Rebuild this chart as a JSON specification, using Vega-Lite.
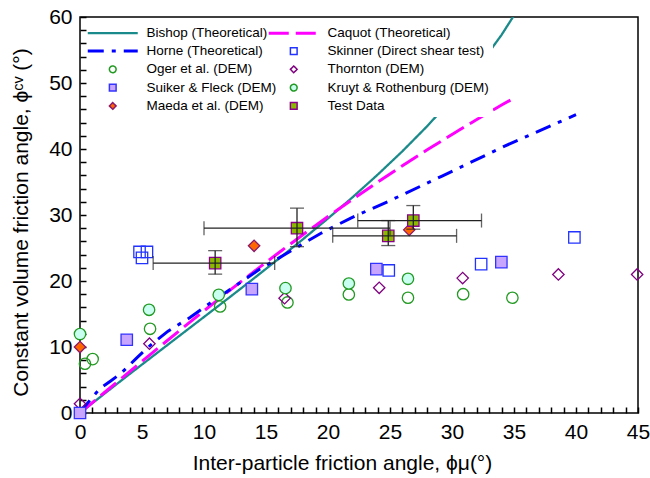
{
  "$schema": "https://vega.github.io/schema/vega-lite/v6.json",
  "width": 558,
  "height": 396,
  "autosize": {"type": "none"},
  "padding": {"left": 80, "top": 17, "right": 12, "bottom": 65},
  "background": "white",
  "config": {
    "font": "Liberation Sans",
    "view": {"stroke": "black", "strokeWidth": 1.5},
    "axis": {
      "domain": false, "offset": -6, "ticks": true,
      "tickColor": "#000000", "tickWidth": 1.5, "tickSize": 6, "tickOpacity": 1, "tickCap": "butt",
      "labelFont": "Liberation Sans", "labelFontSize": 21, "labelColor": "black",
      "titleFont": "Liberation Sans", "titleFontSize": 21, "titleFontWeight": "normal", "titleColor": "black",
      "grid": false
    },
    "legend": {
      "orient": "none", "legendX": 22, "legendY": 5, "columns": 2, "fillColor": "white", "padding": 4,
      "labelFont": "Liberation Sans", "labelFontSize": 13.5, "labelColor": "black", "labelLimit": 300,
      "symbolSize": 45, "labelOffset": 27, "rowPadding": 3.3, "columnPadding": -15, "symbolStrokeWidth": 1.4
    }
  },
  "datasets": {
    "lines": [
      {"series": "Bishop (Theoretical)", "x": 0, "y": 0},
      {"series": "Bishop (Theoretical)", "x": 2, "y": 2.97},
      {"series": "Bishop (Theoretical)", "x": 4, "y": 5.9},
      {"series": "Bishop (Theoretical)", "x": 6, "y": 8.79},
      {"series": "Bishop (Theoretical)", "x": 8, "y": 11.67},
      {"series": "Bishop (Theoretical)", "x": 10, "y": 14.55},
      {"series": "Bishop (Theoretical)", "x": 12, "y": 17.44},
      {"series": "Bishop (Theoretical)", "x": 14, "y": 20.36},
      {"series": "Bishop (Theoretical)", "x": 16, "y": 23.33},
      {"series": "Bishop (Theoretical)", "x": 18, "y": 26.36},
      {"series": "Bishop (Theoretical)", "x": 20, "y": 29.48},
      {"series": "Bishop (Theoretical)", "x": 22, "y": 32.72},
      {"series": "Bishop (Theoretical)", "x": 24, "y": 36.1},
      {"series": "Bishop (Theoretical)", "x": 26, "y": 39.66},
      {"series": "Bishop (Theoretical)", "x": 28, "y": 43.46},
      {"series": "Bishop (Theoretical)", "x": 30, "y": 47.58},
      {"series": "Bishop (Theoretical)", "x": 32, "y": 52.13},
      {"series": "Bishop (Theoretical)", "x": 34, "y": 57.3},
      {"series": "Bishop (Theoretical)", "x": 35, "y": 60.24},
      {"series": "Caquot (Theoretical)", "x": 0, "y": 0},
      {"series": "Caquot (Theoretical)", "x": 2, "y": 3.14},
      {"series": "Caquot (Theoretical)", "x": 4, "y": 6.27},
      {"series": "Caquot (Theoretical)", "x": 6, "y": 9.38},
      {"series": "Caquot (Theoretical)", "x": 8, "y": 12.45},
      {"series": "Caquot (Theoretical)", "x": 10, "y": 15.48},
      {"series": "Caquot (Theoretical)", "x": 12, "y": 18.47},
      {"series": "Caquot (Theoretical)", "x": 14, "y": 21.39},
      {"series": "Caquot (Theoretical)", "x": 16, "y": 24.25},
      {"series": "Caquot (Theoretical)", "x": 18, "y": 27.04},
      {"series": "Caquot (Theoretical)", "x": 20, "y": 29.76},
      {"series": "Caquot (Theoretical)", "x": 22, "y": 32.4},
      {"series": "Caquot (Theoretical)", "x": 24, "y": 34.97},
      {"series": "Caquot (Theoretical)", "x": 26, "y": 37.46},
      {"series": "Caquot (Theoretical)", "x": 28, "y": 39.87},
      {"series": "Caquot (Theoretical)", "x": 30, "y": 42.21},
      {"series": "Caquot (Theoretical)", "x": 32, "y": 44.47},
      {"series": "Caquot (Theoretical)", "x": 34, "y": 46.66},
      {"series": "Caquot (Theoretical)", "x": 35, "y": 47.71},
      {"series": "Horne (Theoretical)", "x": 0, "y": 0},
      {"series": "Horne (Theoretical)", "x": 0.4, "y": 1.0},
      {"series": "Horne (Theoretical)", "x": 1.0, "y": 2.4},
      {"series": "Horne (Theoretical)", "x": 1.6, "y": 3.7},
      {"series": "Horne (Theoretical)", "x": 2.5, "y": 4.9},
      {"series": "Horne (Theoretical)", "x": 3.3, "y": 6.0},
      {"series": "Horne (Theoretical)", "x": 4.6, "y": 8.4},
      {"series": "Horne (Theoretical)", "x": 5.7, "y": 10.3},
      {"series": "Horne (Theoretical)", "x": 7.1, "y": 12.4},
      {"series": "Horne (Theoretical)", "x": 8.9, "y": 14.5},
      {"series": "Horne (Theoretical)", "x": 10, "y": 16.0},
      {"series": "Horne (Theoretical)", "x": 12.1, "y": 18.7},
      {"series": "Horne (Theoretical)", "x": 14.5, "y": 21.8},
      {"series": "Horne (Theoretical)", "x": 15.6, "y": 23.0},
      {"series": "Horne (Theoretical)", "x": 18.3, "y": 26.0},
      {"series": "Horne (Theoretical)", "x": 19.4, "y": 27.2},
      {"series": "Horne (Theoretical)", "x": 21.8, "y": 29.5},
      {"series": "Horne (Theoretical)", "x": 23.1, "y": 30.6},
      {"series": "Horne (Theoretical)", "x": 24.8, "y": 32.0},
      {"series": "Horne (Theoretical)", "x": 29.2, "y": 35.9},
      {"series": "Horne (Theoretical)", "x": 34.2, "y": 40.4},
      {"series": "Horne (Theoretical)", "x": 40, "y": 45.2}
    ],
    "points": [
      {"series": "Skinner (Direct shear test)", "x": 4.8, "y": 24.4},
      {"series": "Skinner (Direct shear test)", "x": 5.4, "y": 24.4},
      {"series": "Skinner (Direct shear test)", "x": 5.0, "y": 23.5},
      {"series": "Skinner (Direct shear test)", "x": 24.9, "y": 21.6},
      {"series": "Skinner (Direct shear test)", "x": 32.35, "y": 22.56},
      {"series": "Skinner (Direct shear test)", "x": 39.87, "y": 26.6},
      {"series": "Oger et al. (DEM)", "x": 0.4, "y": 7.46},
      {"series": "Oger et al. (DEM)", "x": 1.02, "y": 8.17},
      {"series": "Oger et al. (DEM)", "x": 5.65, "y": 12.76},
      {"series": "Oger et al. (DEM)", "x": 11.3, "y": 16.14},
      {"series": "Oger et al. (DEM)", "x": 16.73, "y": 16.75},
      {"series": "Oger et al. (DEM)", "x": 21.68, "y": 17.96},
      {"series": "Oger et al. (DEM)", "x": 26.45, "y": 17.46},
      {"series": "Oger et al. (DEM)", "x": 30.9, "y": 18.0},
      {"series": "Oger et al. (DEM)", "x": 34.87, "y": 17.46},
      {"series": "Thornton (DEM)", "x": 0, "y": 1.4},
      {"series": "Thornton (DEM)", "x": 5.6, "y": 10.5},
      {"series": "Thornton (DEM)", "x": 16.5, "y": 17.4},
      {"series": "Thornton (DEM)", "x": 24.13, "y": 18.97},
      {"series": "Thornton (DEM)", "x": 30.86, "y": 20.44},
      {"series": "Thornton (DEM)", "x": 38.58, "y": 20.99},
      {"series": "Thornton (DEM)", "x": 44.93, "y": 20.99},
      {"series": "Suiker & Fleck (DEM)", "x": 0, "y": 0},
      {"series": "Suiker & Fleck (DEM)", "x": 3.77, "y": 11.1},
      {"series": "Suiker & Fleck (DEM)", "x": 13.86, "y": 18.77},
      {"series": "Suiker & Fleck (DEM)", "x": 23.9, "y": 21.8},
      {"series": "Suiker & Fleck (DEM)", "x": 33.98, "y": 22.86},
      {"series": "Kruyt & Rothenburg (DEM)", "x": 0, "y": 11.96},
      {"series": "Kruyt & Rothenburg (DEM)", "x": 5.57, "y": 15.64},
      {"series": "Kruyt & Rothenburg (DEM)", "x": 11.19, "y": 17.9},
      {"series": "Kruyt & Rothenburg (DEM)", "x": 16.57, "y": 18.92},
      {"series": "Kruyt & Rothenburg (DEM)", "x": 21.68, "y": 19.62},
      {"series": "Kruyt & Rothenburg (DEM)", "x": 26.45, "y": 20.33},
      {"series": "Maeda et al. (DEM)", "x": 0, "y": 9.99},
      {"series": "Maeda et al. (DEM)", "x": 14.04, "y": 25.33},
      {"series": "Maeda et al. (DEM)", "x": 26.55, "y": 27.75},
      {"series": "Test Data", "x": 10.9, "y": 22.71},
      {"series": "Test Data", "x": 17.5, "y": 28.0},
      {"series": "Test Data", "x": 24.86, "y": 26.84},
      {"series": "Test Data", "x": 26.88, "y": 29.16}
    ],
    "errors": [
      {"x": 10.9, "y": 22.71, "xlo": 5.9, "xhi": 15.7, "ylo": 21.04, "yhi": 24.6},
      {"x": 17.5, "y": 28.0, "xlo": 10.0, "xhi": 25.0, "ylo": 25.2, "yhi": 31.04},
      {"x": 24.86, "y": 26.84, "xlo": 20.38, "xhi": 30.37, "ylo": 25.37, "yhi": 29.16},
      {"x": 26.88, "y": 29.16, "xlo": 22.4, "xhi": 32.38, "ylo": 27.85, "yhi": 31.43}
    ]
  },
  "layer": [
    {
      "data": {"name": "lines"},
      "mark": {"type": "line", "clip": true},
      "encoding": {
        "x": {"field": "x", "type": "quantitative", "title": "Inter-particle friction angle, ϕμ(°)", "scale": {"domain": [0, 45], "nice": false, "zero": false},
          "axis": {"values": [0,1,2,3,4,5,6,7,8,9,10,11,12,13,14,15,16,17,18,19,20,21,22,23,24,25,26,27,28,29,30,31,32,33,34,35,36,37,38,39,40,41,42,43,44,45], "ticks": true, "tickSize": 6,
            "labelExpr": "datum.value % 5 === 0 ? datum.label : ''", "titlePadding": 10, "labelPadding": 8, "labelFlush": false, "titleX": 262}},
        "y": {"field": "y", "type": "quantitative", "title": "Constant volume friction angle, ϕᶜᵛ (°)", "scale": {"domain": [0, 60], "nice": false, "zero": false},
          "axis": {"values": [0,2,4,6,8,10,12,14,16,18,20,22,24,26,28,30,32,34,36,38,40,42,44,46,48,50,52,54,56,58,60], "ticks": true, "tickSize": 6,
            "labelExpr": "datum.value % 10 === 0 ? datum.label : ''", "titlePadding": 17, "labelPadding": 8, "labelFlush": false, "titleY": 205}},
        "color": {"field": "series", "type": "nominal", "title": null,
          "scale": {"domain": ["Bishop (Theoretical)", "Horne (Theoretical)", "Oger et al. (DEM)", "Suiker & Fleck (DEM)", "Maeda et al. (DEM)", "Caquot (Theoretical)", "Skinner (Direct shear test)", "Thornton (DEM)", "Kruyt & Rothenburg (DEM)", "Test Data"],
            "range": ["#1b8a8a", "#0000ff", "#229922", "#3333ff", "#8b1a6b", "#ff00ff", "#2233ff", "#800080", "#229922", "#8b008b"]},
          "legend": {"encode": {"symbols": {"update": {"strokeWidth": {"signal": "indexof(['Bishop (Theoretical)','Horne (Theoretical)','Caquot (Theoretical)'], datum.value) >= 0 ? 2.8 : 1.3"}}}}}},
        "strokeDash": {"field": "series", "type": "nominal", "title": null,
          "scale": {"domain": ["Bishop (Theoretical)", "Horne (Theoretical)", "Oger et al. (DEM)", "Suiker & Fleck (DEM)", "Maeda et al. (DEM)", "Caquot (Theoretical)", "Skinner (Direct shear test)", "Thornton (DEM)", "Kruyt & Rothenburg (DEM)", "Test Data"],
            "range": [[1, 0], [16, 8, 4, 8], [1, 0], [1, 0], [1, 0], [20, 7], [1, 0], [1, 0], [1, 0], [1, 0]]}},
        "strokeWidth": {"field": "series", "type": "nominal", "title": null, "legend": null,
          "scale": {"type": "ordinal", "domain": ["Bishop (Theoretical)", "Horne (Theoretical)", "Oger et al. (DEM)", "Suiker & Fleck (DEM)", "Maeda et al. (DEM)", "Caquot (Theoretical)", "Skinner (Direct shear test)", "Thornton (DEM)", "Kruyt & Rothenburg (DEM)", "Test Data"],
            "range": [2.3, 3, 1.5, 1.5, 1.5, 3, 1.5, 1.5, 1.5, 1.5]}}
      }
    },
    {
      "data": {"name": "points"},
      "mark": {"type": "point", "filled": false, "size": 130, "opacity": 1, "strokeWidth": 1.3},
      "encoding": {
        "x": {"field": "x", "type": "quantitative", "title": "Inter-particle friction angle, ϕμ(°)",
          "axis": {"values": [0,1,2,3,4,5,6,7,8,9,10,11,12,13,14,15,16,17,18,19,20,21,22,23,24,25,26,27,28,29,30,31,32,33,34,35,36,37,38,39,40,41,42,43,44,45], "ticks": true, "tickSize": 6,
            "labelExpr": "datum.value % 5 === 0 ? datum.label : ''", "titlePadding": 10, "labelPadding": 8, "labelFlush": false, "titleX": 262}},
        "y": {"field": "y", "type": "quantitative", "title": "Constant volume friction angle, ϕᶜᵛ (°)",
          "axis": {"values": [0,2,4,6,8,10,12,14,16,18,20,22,24,26,28,30,32,34,36,38,40,42,44,46,48,50,52,54,56,58,60], "ticks": true, "tickSize": 6,
            "labelExpr": "datum.value % 10 === 0 ? datum.label : ''", "titlePadding": 17, "labelPadding": 8, "labelFlush": false, "titleY": 205}},
        "color": {"field": "series", "type": "nominal", "title": null},
        "fill": {"field": "series", "type": "nominal", "title": null,
          "scale": {"domain": ["Bishop (Theoretical)", "Horne (Theoretical)", "Oger et al. (DEM)", "Suiker & Fleck (DEM)", "Maeda et al. (DEM)", "Caquot (Theoretical)", "Skinner (Direct shear test)", "Thornton (DEM)", "Kruyt & Rothenburg (DEM)", "Test Data"],
            "range": ["transparent", "transparent", "transparent", "#c8a6ff", "#ff6600", "transparent", "transparent", "transparent", "#c8fff0", "#8cb800"]}},
        "shape": {"field": "series", "type": "nominal", "title": null,
          "scale": {"domain": ["Bishop (Theoretical)", "Horne (Theoretical)", "Oger et al. (DEM)", "Suiker & Fleck (DEM)", "Maeda et al. (DEM)", "Caquot (Theoretical)", "Skinner (Direct shear test)", "Thornton (DEM)", "Kruyt & Rothenburg (DEM)", "Test Data"],
            "range": ["M-7.45,0L7.45,0", "M-7.45,0L7.45,0", "circle", "square", "diamond", "M-7.45,0L7.45,0", "square", "diamond", "circle", "square"]}}
      }
    },
    {
      "data": {"name": "errors"},
      "mark": {"type": "errorbar", "ticks": {"size": 14}, "color": "#222222", "thickness": 1.3},
      "encoding": {
        "x": {"field": "xlo", "type": "quantitative", "title": "Inter-particle friction angle, ϕμ(°)",
          "axis": {"values": [0,1,2,3,4,5,6,7,8,9,10,11,12,13,14,15,16,17,18,19,20,21,22,23,24,25,26,27,28,29,30,31,32,33,34,35,36,37,38,39,40,41,42,43,44,45], "ticks": true, "tickSize": 6,
            "labelExpr": "datum.value % 5 === 0 ? datum.label : ''", "titlePadding": 10, "labelPadding": 8, "labelFlush": false, "titleX": 262}},
        "x2": {"field": "xhi"},
        "y": {"field": "y", "type": "quantitative", "title": "Constant volume friction angle, ϕᶜᵛ (°)",
          "axis": {"values": [0,2,4,6,8,10,12,14,16,18,20,22,24,26,28,30,32,34,36,38,40,42,44,46,48,50,52,54,56,58,60], "ticks": true, "tickSize": 6,
            "labelExpr": "datum.value % 10 === 0 ? datum.label : ''", "titlePadding": 17, "labelPadding": 8, "labelFlush": false, "titleY": 205}}
      }
    },
    {
      "data": {"name": "errors"},
      "mark": {"type": "errorbar", "ticks": {"size": 14}, "color": "#222222", "thickness": 1.3},
      "encoding": {
        "y": {"field": "ylo", "type": "quantitative", "title": "Constant volume friction angle, ϕᶜᵛ (°)",
          "axis": {"values": [0,2,4,6,8,10,12,14,16,18,20,22,24,26,28,30,32,34,36,38,40,42,44,46,48,50,52,54,56,58,60], "ticks": true, "tickSize": 6,
            "labelExpr": "datum.value % 10 === 0 ? datum.label : ''", "titlePadding": 17, "labelPadding": 8, "labelFlush": false, "titleY": 205}},
        "y2": {"field": "yhi"},
        "x": {"field": "x", "type": "quantitative", "title": "Inter-particle friction angle, ϕμ(°)",
          "axis": {"values": [0,1,2,3,4,5,6,7,8,9,10,11,12,13,14,15,16,17,18,19,20,21,22,23,24,25,26,27,28,29,30,31,32,33,34,35,36,37,38,39,40,41,42,43,44,45], "ticks": true, "tickSize": 6,
            "labelExpr": "datum.value % 5 === 0 ? datum.label : ''", "titlePadding": 10, "labelPadding": 8, "labelFlush": false, "titleX": 262}}
      }
    }
  ]
}
